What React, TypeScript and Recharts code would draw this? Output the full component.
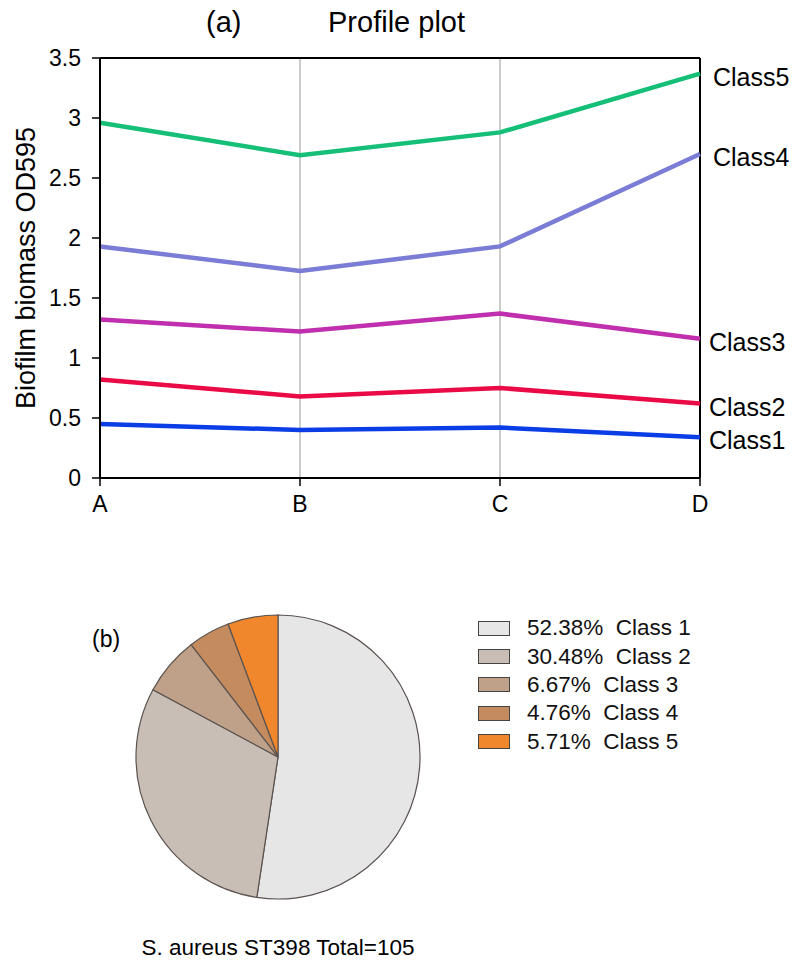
import {
  CartesianGrid,
  Legend,
  Line,
  LineChart,
  Pie,
  PieChart,
  Cell,
  ReferenceLine,
  XAxis,
  YAxis,
} from "recharts";

const stages = ["A", "B", "C", "D"];
const class1 = [0.45, 0.4, 0.42, 0.34];
const class2 = [0.82, 0.68, 0.75, 0.62];
const class3 = [1.32, 1.22, 1.37, 1.16];
const class4 = [1.93, 1.725, 1.93, 2.7];
const class5 = [2.96, 2.69, 2.88, 3.37];
const yTicks = [0, 0.5, 1, 1.5, 2, 2.5, 3, 3.5];

const seriesNames = ["Class1", "Class2", "Class3", "Class4", "Class5"];
const seriesColors = ["#0a3de6", "#ea0a45", "#bf2fae", "#7a7cd6", "#16bf78"];

const pieNames = ["Class 1", "Class 2", "Class 3", "Class 4", "Class 5"];
const pieCounts = [55, 32, 7, 5, 6];
const piePercents = ["52.38%", "30.48%", "6.67%", "4.76%", "5.71%"];
const pieColors = ["#e7e6e6", "#c9beb5", "#bfa189", "#c48b5f", "#f1872c"];

const lineData = stages.map((s, i) => ({
  name: s,
  Class1: class1[i],
  Class2: class2[i],
  Class3: class3[i],
  Class4: class4[i],
  Class5: class5[i],
}));

const pieData = pieNames.map((n, i) => ({ name: n, value: pieCounts[i] }));

const font = "'Liberation Sans', Arial, sans-serif";

const endLabel = (name: string, dx: number) => (props: any) => {
  if (props.index !== stages.length - 1) return null;
  return (
    <text
      x={props.x + dx}
      y={props.y + 3}
      dominantBaseline="central"
      fontSize={25}
      fontFamily={font}
      fill="#000"
    >
      {name}
    </text>
  );
};

const labelOffsets = [9, 9, 9, 13, 13];

const PieLegend = () => (
  <div style={{ fontFamily: font, fontSize: 22.5, color: "#111" }}>
    {pieNames.map((n, i) => (
      <div
        key={n}
        style={{ display: "flex", alignItems: "center", height: 28.4 }}
      >
        <span
          style={{
            width: 30,
            height: 13,
            background: pieColors[i],
            border: "1.5px solid #444",
            marginRight: 17,
            display: "inline-block",
          }}
        />
        <span>
          {piePercents[i]}&nbsp;&nbsp;{n}
        </span>
      </div>
    ))}
  </div>
);

export default function App() {
  return (
    <div
      style={{
        position: "absolute",
        top: 0,
        left: 0,
        width: 793,
        height: 967,
        background: "#fff",
        fontFamily: font,
      }}
    >
      <div style={{ position: "absolute", left: 206, top: 6, fontSize: 29 }}>
        (a)
      </div>
      <div style={{ position: "absolute", left: 328, top: 6, fontSize: 29 }}>
        Profile plot
      </div>
      <div
        style={{
          position: "absolute",
          left: 26,
          top: 268,
          fontSize: 27,
          transform: "translate(-50%, -50%) rotate(-90deg)",
          whiteSpace: "nowrap",
        }}
      >
        Biofilm biomass OD595
      </div>
      <div style={{ position: "absolute", top: 0, left: 0 }}>
        <LineChart
          width={793}
          height={520}
          data={lineData}
          margin={{ top: 58, right: 93, bottom: 0, left: 0 }}
        >
          <CartesianGrid horizontal={false} stroke="#999" strokeWidth={1} />
          <XAxis
            dataKey="name"
            axisLine={{ stroke: "#000", strokeWidth: 2 }}
            tickLine={{ stroke: "#000", strokeWidth: 1.5 }}
            tickSize={8}
            tickMargin={10}
            height={42}
            tick={{ fill: "#000", fontSize: 23, fontFamily: font }}
          />
          <YAxis
            domain={[0, 3.5]}
            ticks={yTicks}
            width={100}
            axisLine={{ stroke: "#000", strokeWidth: 2 }}
            tickLine={{ stroke: "#000", strokeWidth: 1.5 }}
            tickSize={8}
            tickMargin={11}
            tick={{ fill: "#000", fontSize: 23, fontFamily: font }}
          />
          <ReferenceLine y={3.5} stroke="#000" strokeWidth={2} />
          <ReferenceLine x="D" stroke="#000" strokeWidth={2} />
          {seriesNames.map((s, i) => (
            <Line
              key={s}
              dataKey={s}
              type="linear"
              stroke={seriesColors[i]}
              strokeWidth={4.5}
              dot={false}
              activeDot={false}
              isAnimationActive={false}
              label={endLabel(s, labelOffsets[i])}
            />
          ))}
        </LineChart>
      </div>
      <div style={{ position: "absolute", left: 92, top: 626, fontSize: 23 }}>
        (b)
      </div>
      <div style={{ position: "absolute", top: 520, left: 0 }}>
        <PieChart
          width={793}
          height={447}
          margin={{ top: 0, right: 0, bottom: 0, left: 0 }}
        >
          <Pie
            data={pieData}
            dataKey="value"
            nameKey="name"
            cx={278}
            cy={237}
            outerRadius={142}
            startAngle={90}
            endAngle={-270}
            stroke="#5a5350"
            strokeWidth={1.2}
            isAnimationActive={false}
          >
            {pieData.map((d, i) => (
              <Cell key={d.name} fill={pieColors[i]} />
            ))}
          </Pie>
          <Legend
            layout="vertical"
            content={() => <PieLegend />}
            wrapperStyle={{ position: "absolute", left: 478, top: 94, width: 300 }}
          />
        </PieChart>
      </div>
      <div
        style={{
          position: "absolute",
          left: 278,
          top: 935,
          fontSize: 22.5,
          transform: "translateX(-50%)",
          whiteSpace: "nowrap",
        }}
      >
        S. aureus ST398 Total=105
      </div>
    </div>
  );
}
